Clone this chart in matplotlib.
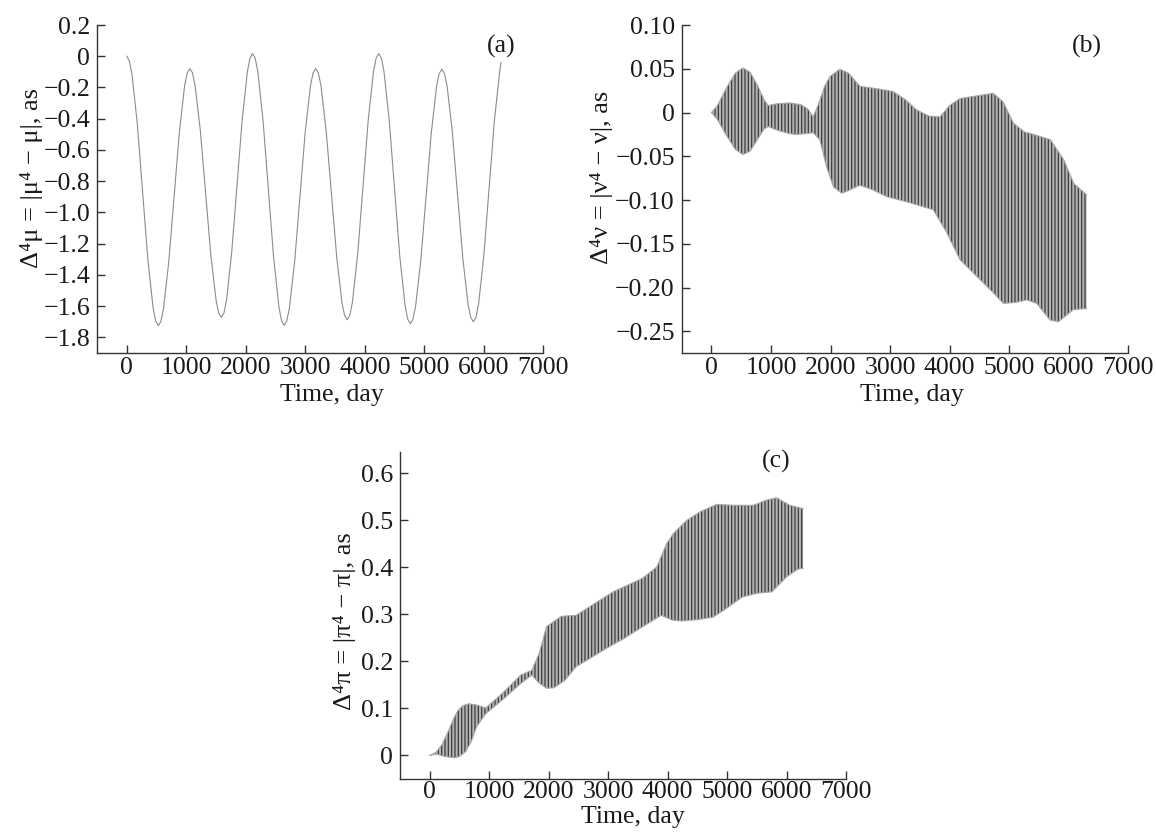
import numpy as np
import matplotlib
matplotlib.use('Agg')
import matplotlib.pyplot as plt

plt.rcParams['font.family'] = ['Liberation Serif', 'DejaVu Serif']
plt.rcParams['font.size'] = 18
plt.rcParams['hatch.color'] = '#3c3c3c'
plt.rcParams['hatch.linewidth'] = 0.9

# ---- panel (a): delta mu
mu_t = [0, 44, 88, 177, 265, 353, 442, 486,
        530, 574, 618, 707, 795, 883, 972, 1016,
        1060, 1104, 1148, 1237, 1325, 1413, 1502, 1546,
        1590, 1634, 1678, 1765, 1853, 1940, 2028, 2071,
        2115, 2159, 2203, 2292, 2380, 2468, 2557, 2601,
        2645, 2689, 2733, 2822, 2910, 2998, 3087, 3131,
        3175, 3219, 3263, 3352, 3440, 3528, 3617, 3661,
        3705, 3749, 3793, 3882, 3970, 4058, 4147, 4191,
        4235, 4279, 4323, 4412, 4500, 4588, 4677, 4721,
        4765, 4809, 4853, 4942, 5030, 5118, 5207, 5251,
        5295, 5339, 5383, 5472, 5560, 5648, 5737, 5781,
        5825, 5869, 5913, 6002, 6090, 6178, 6267, 6290]
mu_v = [0, -0.03, -0.116, -0.431, -0.863, -1.294, -1.609, -1.695,
        -1.725, -1.697, -1.615, -1.313, -0.902, -0.490, -0.189, -0.107,
        -0.079, -0.106, -0.186, -0.477, -0.876, -1.274, -1.565, -1.645,
        -1.672, -1.643, -1.559, -1.250, -0.827, -0.405, -0.096, -0.012,
        0.017, -0.013, -0.100, -0.418, -0.853, -1.288, -1.606, -1.693,
        -1.723, -1.695, -1.613, -1.312, -0.901, -0.490, -0.189, -0.107,
        -0.079, -0.106, -0.187, -0.481, -0.883, -1.285, -1.579, -1.660,
        -1.687, -1.658, -1.573, -1.261, -0.835, -0.409, -0.097, -0.012,
        0.017, -0.012, -0.099, -0.415, -0.848, -1.280, -1.596, -1.683,
        -1.712, -1.684, -1.603, -1.305, -0.897, -0.490, -0.192, -0.111,
        -0.083, -0.110, -0.191, -0.487, -0.892, -1.296, -1.592, -1.673,
        -1.700, -1.671, -1.585, -1.271, -0.841, -0.412, -0.098, -0.04]

# ---- panel (b): envelope of the fast oscillation of delta nu
nu_t_up = [0, 100, 250, 400, 530, 650, 780, 880, 951, 1100, 1316, 1500, 1620,
           1708, 1800, 1900, 1988, 2156, 2300, 2493, 2800, 3053, 3250, 3445,
           3650, 3837, 4000, 4173, 4450, 4734, 4900, 5070, 5250, 5406, 5692,
           5916, 6084, 6300]
nu_up = [0, 0.008, 0.028, 0.045, 0.051, 0.046, 0.030, 0.015, 0.008, 0.010,
         0.011, 0.009, 0.004, -0.005, 0.010, 0.030, 0.041, 0.0495, 0.045,
         0.030, 0.027, 0.024, 0.015, 0.003, -0.004, -0.005, 0.008, 0.016,
         0.019, 0.022, 0.012, -0.012, -0.022, -0.025, -0.031, -0.054, -0.081,
         -0.094]
nu_t_lo = [0, 100, 250, 400, 530, 650, 780, 880, 951, 1100, 1300, 1428, 1600,
           1708, 1820, 1932, 2050, 2184, 2268, 2493, 2700, 2941, 3333, 3725,
           3950, 4173, 4454, 4734, 4902, 5100, 5294, 5462, 5686, 5826, 6078,
           6274, 6300]
nu_lo = [0, -0.008, -0.026, -0.042, -0.048, -0.044, -0.030, -0.019, -0.016,
         -0.020, -0.024, -0.025, -0.024, -0.023, -0.031, -0.062, -0.085,
         -0.092, -0.090, -0.083, -0.088, -0.096, -0.103, -0.111, -0.137,
         -0.168, -0.187, -0.206, -0.218, -0.217, -0.214, -0.218, -0.237,
         -0.239, -0.225, -0.224, -0.224]

# ---- panel (c): envelope of delta pi
pi_t_up = [0, 100, 200, 300, 400, 478, 560, 663, 800, 942, 1220, 1530, 1716,
           1840, 1964, 2213, 2462, 2773, 3084, 3394, 3581, 3819, 3987, 4097,
           4322, 4545, 4825, 5104, 5440, 5664, 5832, 6055, 6279]
pi_up = [0, 0.006, 0.022, 0.048, 0.078, 0.096, 0.106, 0.110, 0.107, 0.101,
         0.132, 0.171, 0.181, 0.217, 0.274, 0.296, 0.298, 0.323, 0.348, 0.366,
         0.377, 0.401, 0.451, 0.472, 0.500, 0.518, 0.534, 0.532, 0.532, 0.543,
         0.548, 0.532, 0.525]
pi_t_lo = [0, 106, 250, 354, 416, 500, 602, 700, 788, 942, 1220, 1530, 1716,
           1840, 1964, 2089, 2275, 2462, 2648, 2958, 3269, 3581, 3891, 4077,
           4232, 4511, 4760, 4946, 5257, 5505, 5754, 6002, 6188, 6279]
pi_lo = [0, 0.003, -0.002, -0.004, -0.005, -0.002, 0.008, 0.030, 0.061, 0.089,
         0.118, 0.153, 0.171, 0.154, 0.143, 0.144, 0.160, 0.189, 0.203, 0.227,
         0.249, 0.274, 0.298, 0.288, 0.286, 0.289, 0.294, 0.309, 0.337, 0.345,
         0.348, 0.380, 0.396, 0.398]

x_ticks = [0, 1000, 2000, 3000, 4000, 5000, 6000, 7000]
a_ticks = [0.2, 0, -0.2, -0.4, -0.6, -0.8, -1.0, -1.2, -1.4, -1.6, -1.8]
a_labels = ['0.2', '0', '−0.2', '−0.4', '−0.6', '−0.8', '−1.0', '−1.2', '−1.4', '−1.6', '−1.8']
b_ticks = [0.10, 0.05, 0, -0.05, -0.10, -0.15, -0.20, -0.25]
b_labels = ['0.10', '0.05', '0', '−0.05', '−0.10', '−0.15', '−0.20', '−0.25']
c_ticks = [0, 0.1, 0.2, 0.3, 0.4, 0.5, 0.6]
c_labels = ['0', '0.1', '0.2', '0.3', '0.4', '0.5', '0.6']

W, H = 1156, 834
fig = plt.figure(figsize=(W / 100, H / 100), dpi=100)
TXT = '#1a1a1a'


def px_axes(x0, y0, x1, y1):
    return fig.add_axes([x0 / W, 1 - y1 / H, (x1 - x0) / W, (y1 - y0) / H])


def style(ax, ylim, yt, yl, xpad=3):
    for s in ['top', 'right']:
        ax.spines[s].set_visible(False)
    for s in ['left', 'bottom']:
        ax.spines[s].set_color('#333333')
        ax.spines[s].set_linewidth(1.0)
    ax.set_xlim(-500, 7000)
    ax.set_ylim(*ylim)
    ax.set_xticks(x_ticks)
    ax.set_xticklabels([str(v) for v in x_ticks])
    ax.set_yticks(yt)
    ax.set_yticklabels(yl)
    ax.tick_params(direction='in', length=6, width=1.0, color='#333333',
                   labelsize=18.5, labelcolor=TXT)
    ax.tick_params(axis='x', pad=xpad)
    ax.tick_params(axis='y', pad=5)
    ax.set_xlabel('Time, day', fontsize=18.5, color=TXT)


def band(ax, tu, up, tl, lo):
    xs = np.concatenate([tu, tl[::-1]])
    ys = np.concatenate([up, lo[::-1]])
    ax.fill(xs, ys, facecolor='#b4b4b4', edgecolor='#3c3c3c', linewidth=0,
            hatch='|||||')
    ax.plot(tu, up, color='#a8a8a8', lw=0.8)
    ax.plot(tl, lo, color='#a8a8a8', lw=0.8)


# (a)
ax1 = px_axes(97, 25, 543.3, 353)
ax1.plot(mu_t, mu_v, color='#8c8c8c', lw=0.8)
style(ax1, (-1.9, 0.2), a_ticks, a_labels)
ax1.set_ylabel('Δ⁴μ = |μ⁴ − μ|, as', fontsize=19, color=TXT)
ax1.yaxis.set_label_coords(-0.121, 0.535)
ax1.xaxis.set_label_coords(0.526, -0.095)
ax1.text(6300, 0.06, '(a)', fontsize=18.5, ha='center', va='center', color=TXT)

# (b)
ax2 = px_axes(681.7, 25, 1128.3, 353.3)
band(ax2, np.array(nu_t_up), np.array(nu_up), np.array(nu_t_lo), np.array(nu_lo))
style(ax2, (-0.275, 0.10), b_ticks, b_labels)
ax2.set_ylabel('Δ⁴ν = |ν⁴ − ν|, as', fontsize=19, color=TXT)
ax2.yaxis.set_label_coords(-0.154, 0.535)
ax2.xaxis.set_label_coords(0.516, -0.095)
ax2.text(6300, 0.075, '(b)', fontsize=18.5, ha='center', va='center', color=TXT)

# (c)
ax3 = px_axes(400, 451.7, 846, 779)
band(ax3, np.array(pi_t_up), np.array(pi_up), np.array(pi_t_lo), np.array(pi_lo))
style(ax3, (-0.05, 0.646), c_ticks, c_labels, xpad=1.5)
ax3.set_ylabel('Δ⁴π = |π⁴ − π|, as', fontsize=19, color=TXT)
ax3.yaxis.set_label_coords(-0.099, 0.483)
ax3.xaxis.set_label_coords(0.522, -0.083)
ax3.text(5820, 0.625, '(c)', fontsize=18.5, ha='center', va='center', color=TXT)

fig.savefig('out.png', dpi=100)
